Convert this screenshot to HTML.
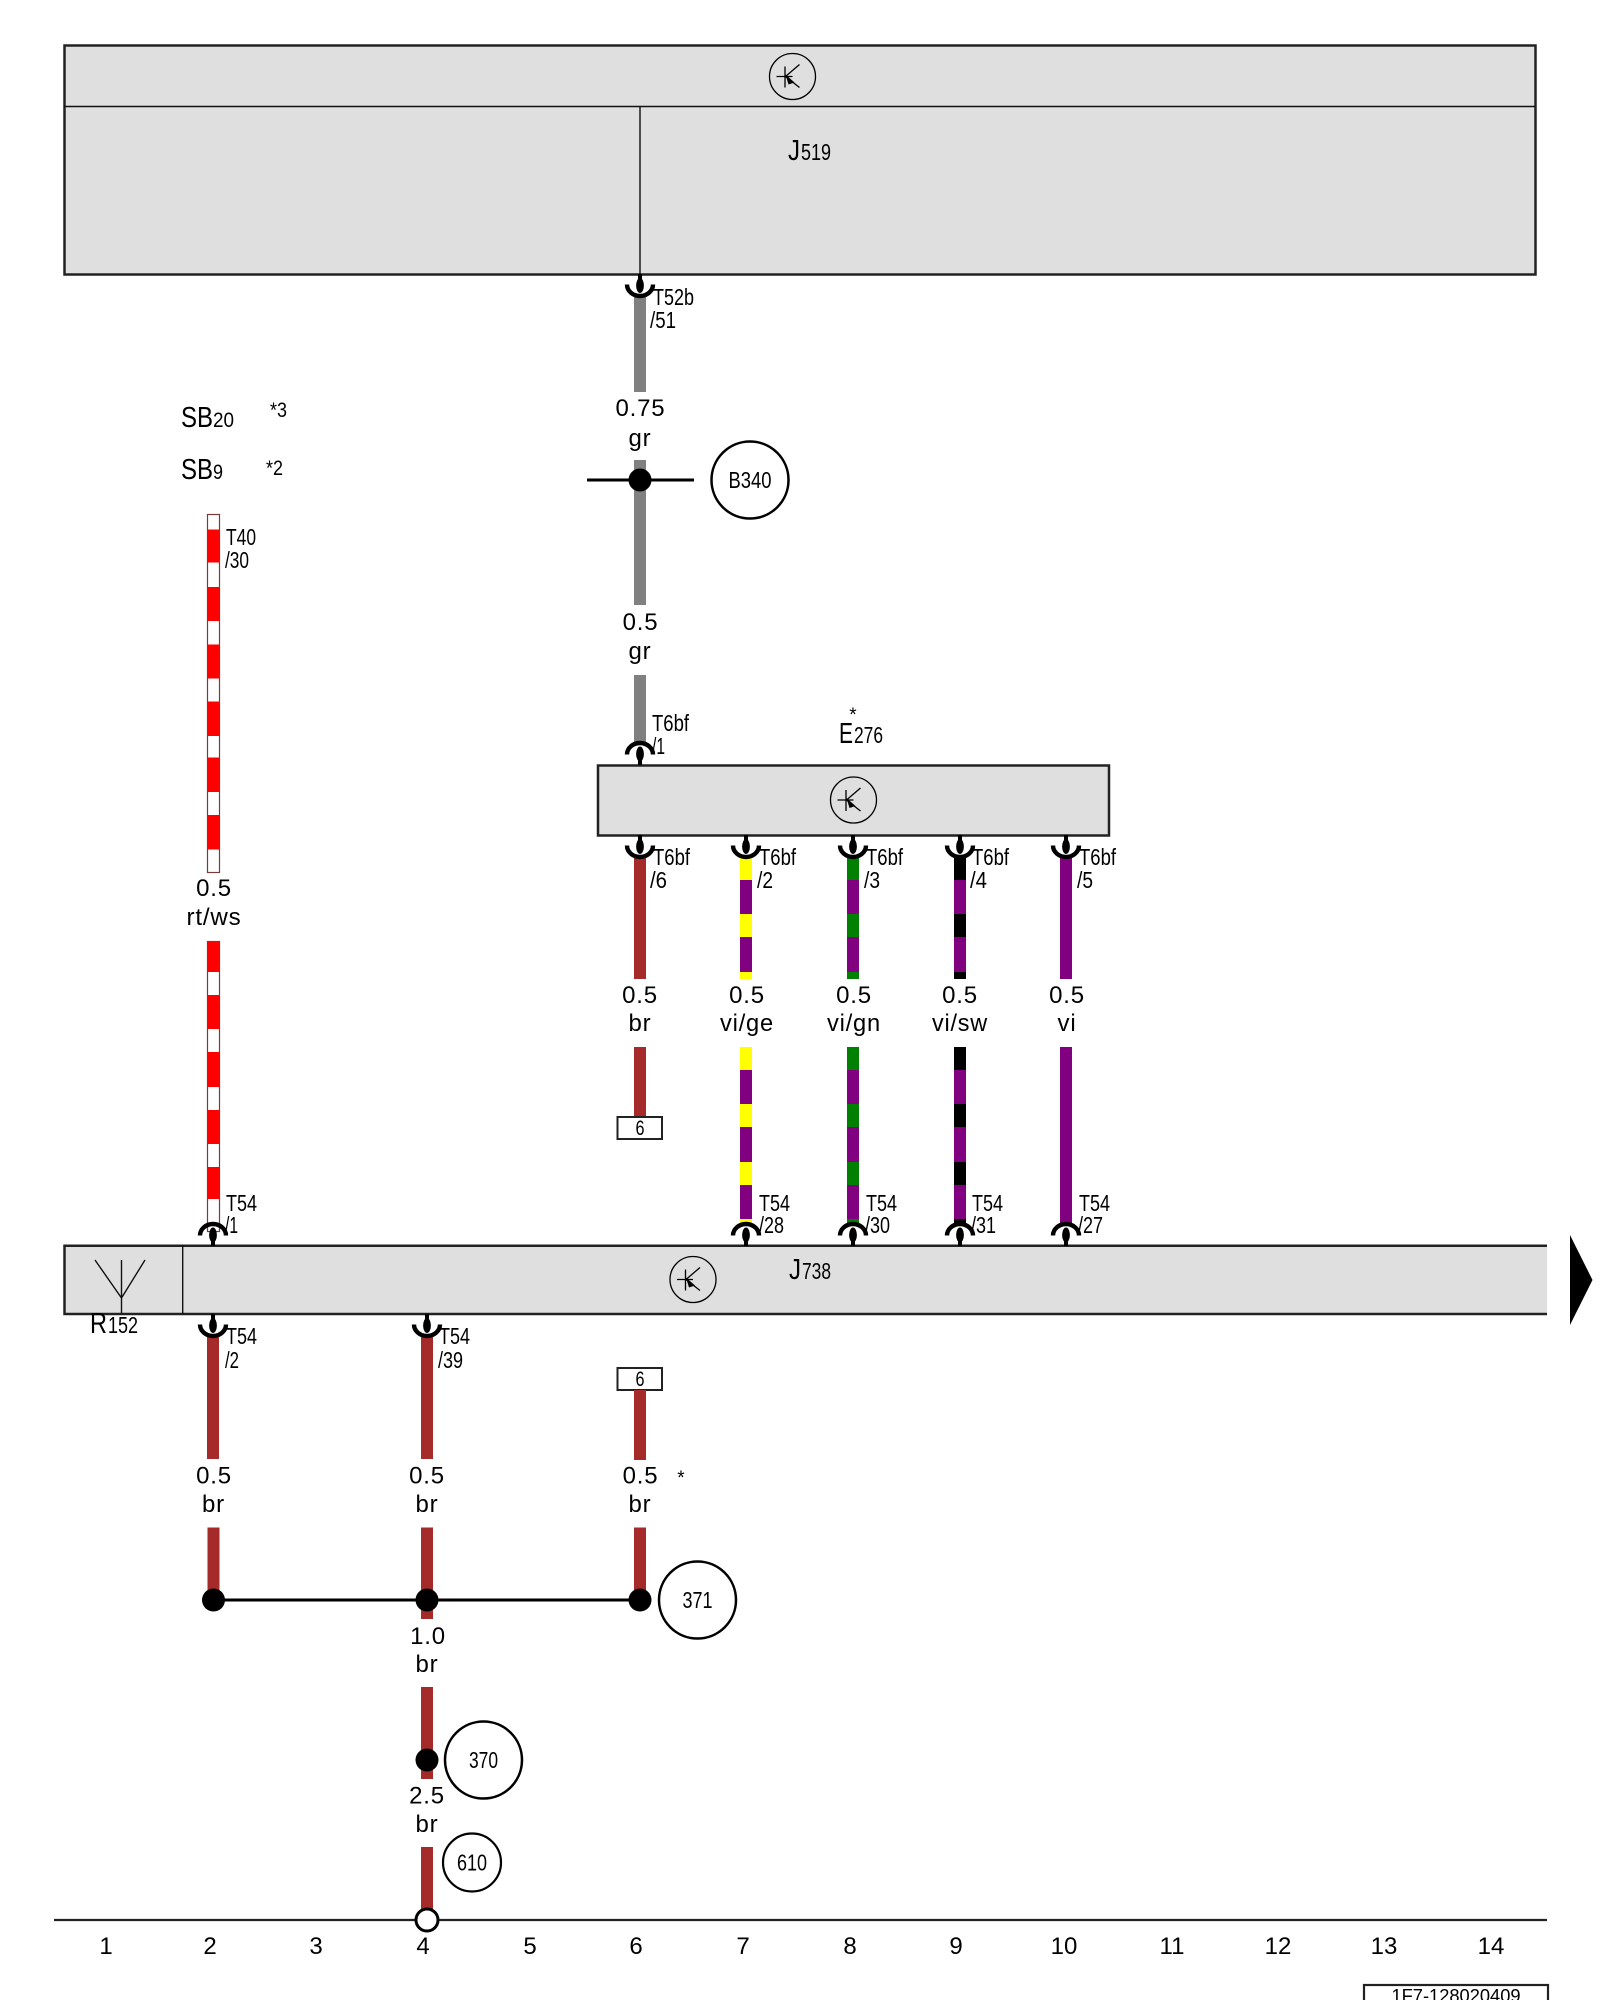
<!DOCTYPE html>
<html><head><meta charset="utf-8"><style>
html,body{margin:0;padding:0;background:#fff}
svg{display:block}
text{font-family:"Liberation Sans",Arial,sans-serif;fill:#000}
.a{font-size:24px;text-anchor:middle;letter-spacing:.8px}
.t{font-size:23px}
.b{font-size:29px}
</style></head><body>
<svg width="1600" height="2000" viewBox="0 0 1600 2000" xmlns="http://www.w3.org/2000/svg">
<defs>
<g id="up"><rect x="-2" y="-8" width="4" height="8" fill="#000"/><ellipse cx="0" cy="-11" rx="3.9" ry="7.5" fill="#000"/><path d="M-13,-10.5 A13,11.5 0 0 1 13,-10.5" fill="none" stroke="#000" stroke-width="4.4"/></g>
<g id="dn"><rect x="-2" y="0" width="4" height="8" fill="#000"/><ellipse cx="0" cy="11.5" rx="3.9" ry="7.5" fill="#000"/><path d="M-13,10.5 A13,11.5 0 0 0 13,10.5" fill="none" stroke="#000" stroke-width="4.4"/></g>
<g id="tr" fill="none" stroke="#000" stroke-width="1.3"><circle cx="0" cy="0" r="23"/><path d="M-16,0H0M-7.5,-10V11M-7,0L7,-12M-7,0L7,11"/><path d="M-7,-2L2,6L-4,8Z" fill="#000" stroke="none"/></g>
</defs>

<!-- J519 -->
<rect x="64.5" y="45.5" width="1471" height="229" fill="#dfdfdf" stroke="#222" stroke-width="2.5"/>
<line x1="64" y1="106.5" x2="1535" y2="106.5" stroke="#111" stroke-width="1.6"/>
<line x1="640" y1="106" x2="640" y2="274" stroke="#111" stroke-width="1.4"/>
<use href="#tr" x="792.5" y="76.5"/>
<text class="b" x="788" y="160" textLength="12" lengthAdjust="spacingAndGlyphs">J</text>
<text class="t" x="801" y="160" textLength="30" lengthAdjust="spacingAndGlyphs">519</text>

<!-- gray wires -->
<rect x="634" y="296" width="12" height="96" fill="#808080"/>
<use href="#dn" x="640" y="274"/>
<text class="t" x="653" y="305" textLength="41" lengthAdjust="spacingAndGlyphs">T52b</text>
<text class="t" x="650" y="328" textLength="26" lengthAdjust="spacingAndGlyphs">/51</text>
<text class="a" x="640.5" y="416">0.75</text>
<text class="a" x="640" y="446">gr</text>
<rect x="634" y="460" width="12" height="145" fill="#808080"/>
<line x1="587" y1="480" x2="694" y2="480" stroke="#000" stroke-width="3"/>
<circle cx="640" cy="480" r="11.5" fill="#000"/>
<circle cx="750" cy="480" r="38.5" fill="#fff" stroke="#000" stroke-width="2.5"/>
<text class="t" x="728.5" y="488" textLength="43" lengthAdjust="spacingAndGlyphs">B340</text>
<text class="a" x="640.5" y="630">0.5</text>
<text class="a" x="640" y="659">gr</text>
<rect x="634" y="675" width="12" height="70" fill="#808080"/>

<!-- SB labels -->
<text x="181" y="427" font-size="29" textLength="32" lengthAdjust="spacingAndGlyphs">SB</text>
<text x="213" y="427" font-size="21" textLength="21" lengthAdjust="spacingAndGlyphs">20</text>
<text x="270" y="417" font-size="21" textLength="17" lengthAdjust="spacingAndGlyphs">*3</text>
<text x="181" y="479" font-size="29" textLength="32" lengthAdjust="spacingAndGlyphs">SB</text>
<text x="213" y="479" font-size="21" textLength="10" lengthAdjust="spacingAndGlyphs">9</text>
<text x="266" y="475" font-size="21" textLength="17" lengthAdjust="spacingAndGlyphs">*2</text>

<!-- red/white wire -->
<rect x="207.5" y="514.5" width="12" height="358" fill="#fff" stroke="#7a3a3a" stroke-width="1.2"/>
<g fill="#f00">
<rect x="207" y="529.5" width="13" height="33"/><rect x="207" y="587" width="13" height="34"/><rect x="207" y="644.5" width="13" height="34"/><rect x="207" y="701.5" width="13" height="34.5"/><rect x="207" y="757.5" width="13" height="34.5"/><rect x="207" y="815" width="13" height="34.5"/>
</g>
<text class="t" x="226" y="545" textLength="30" lengthAdjust="spacingAndGlyphs">T40</text>
<text class="t" x="225" y="568" textLength="24" lengthAdjust="spacingAndGlyphs">/30</text>
<text class="a" x="214" y="896">0.5</text>
<text class="a" x="214" y="925" textLength="55" lengthAdjust="spacingAndGlyphs">rt/ws</text>
<rect x="207.5" y="941.5" width="12" height="290" fill="#fff" stroke="#7a3a3a" stroke-width="1.2"/>
<g fill="#f00">
<rect x="207" y="941" width="13" height="31"/><rect x="207" y="995" width="13" height="34"/><rect x="207" y="1052" width="13" height="35"/><rect x="207" y="1110" width="13" height="34"/><rect x="207" y="1167" width="13" height="32"/>
</g>

<!-- E276 -->
<text x="853" y="721" font-size="19" text-anchor="middle">*</text>
<text class="b" x="839" y="743" textLength="14" lengthAdjust="spacingAndGlyphs">E</text>
<text class="t" x="854" y="743" textLength="29" lengthAdjust="spacingAndGlyphs">276</text>
<rect x="598" y="765.5" width="511" height="70" fill="#dfdfdf" stroke="#222" stroke-width="2.5"/>
<use href="#tr" x="853.5" y="800"/>
<use href="#up" x="640" y="765"/>
<text class="t" x="652" y="731" textLength="37" lengthAdjust="spacingAndGlyphs">T6bf</text>
<text class="t" x="652" y="754" textLength="13" lengthAdjust="spacingAndGlyphs">/1</text>

<!-- upper wires col 6-10 -->
<rect x="634" y="856" width="12" height="123" fill="#a52a2a"/>
<rect x="740" y="856" width="12" height="123" fill="#800080"/>
<g fill="#ff0"><rect x="740" y="856" width="12" height="24"/><rect x="740" y="914" width="12" height="23"/><rect x="740" y="972" width="12" height="7"/></g>
<rect x="847" y="856" width="12" height="123" fill="#800080"/>
<g fill="#008000"><rect x="847" y="856" width="12" height="24"/><rect x="847" y="914" width="12" height="23"/><rect x="847" y="972" width="12" height="7"/></g>
<rect x="954" y="856" width="12" height="123" fill="#800080"/>
<g fill="#000"><rect x="954" y="856" width="12" height="24"/><rect x="954" y="914" width="12" height="23"/><rect x="954" y="972" width="12" height="7"/></g>
<rect x="1060" y="856" width="12" height="123" fill="#800080"/>
<use href="#dn" x="640" y="835"/><use href="#dn" x="746" y="835"/><use href="#dn" x="853" y="835"/><use href="#dn" x="960" y="835"/><use href="#dn" x="1066" y="835"/>
<text class="t" x="653" y="865" textLength="37" lengthAdjust="spacingAndGlyphs">T6bf</text><text class="t" x="650" y="888" textLength="17" lengthAdjust="spacingAndGlyphs">/6</text>
<text class="t" x="759" y="865" textLength="37" lengthAdjust="spacingAndGlyphs">T6bf</text><text class="t" x="757" y="888" textLength="16" lengthAdjust="spacingAndGlyphs">/2</text>
<text class="t" x="866" y="865" textLength="37" lengthAdjust="spacingAndGlyphs">T6bf</text><text class="t" x="864" y="888" textLength="16" lengthAdjust="spacingAndGlyphs">/3</text>
<text class="t" x="972" y="865" textLength="37" lengthAdjust="spacingAndGlyphs">T6bf</text><text class="t" x="970" y="888" textLength="17" lengthAdjust="spacingAndGlyphs">/4</text>
<text class="t" x="1079" y="865" textLength="37" lengthAdjust="spacingAndGlyphs">T6bf</text><text class="t" x="1077" y="888" textLength="16" lengthAdjust="spacingAndGlyphs">/5</text>
<text class="a" x="640" y="1003">0.5</text><text class="a" x="640" y="1031">br</text>
<text class="a" x="747" y="1003">0.5</text><text class="a" x="747" y="1031" textLength="54" lengthAdjust="spacingAndGlyphs">vi/ge</text>
<text class="a" x="854" y="1003">0.5</text><text class="a" x="854" y="1031" textLength="54" lengthAdjust="spacingAndGlyphs">vi/gn</text>
<text class="a" x="960" y="1003">0.5</text><text class="a" x="960" y="1031" textLength="56" lengthAdjust="spacingAndGlyphs">vi/sw</text>
<text class="a" x="1067" y="1003">0.5</text><text class="a" x="1067" y="1031">vi</text>

<!-- lower wires col 6-10 -->
<rect x="634" y="1047" width="12" height="70" fill="#a52a2a"/>
<rect x="617.5" y="1117" width="44.5" height="22" fill="#fff" stroke="#222" stroke-width="2"/>
<text x="640" y="1135" font-size="21" text-anchor="middle" textLength="9" lengthAdjust="spacingAndGlyphs">6</text>
<rect x="740" y="1047" width="12" height="178" fill="#800080"/>
<g fill="#ff0"><rect x="740" y="1047" width="12" height="23"/><rect x="740" y="1104" width="12" height="23"/><rect x="740" y="1162" width="12" height="23"/><rect x="740" y="1219" width="12" height="5"/></g>
<rect x="847" y="1047" width="12" height="178" fill="#800080"/>
<g fill="#008000"><rect x="847" y="1047" width="12" height="23"/><rect x="847" y="1104" width="12" height="23"/><rect x="847" y="1162" width="12" height="23"/><rect x="847" y="1219" width="12" height="5"/></g>
<rect x="954" y="1047" width="12" height="178" fill="#800080"/>
<g fill="#000"><rect x="954" y="1047" width="12" height="23"/><rect x="954" y="1104" width="12" height="23"/><rect x="954" y="1162" width="12" height="23"/><rect x="954" y="1219" width="12" height="5"/></g>
<rect x="1060" y="1047" width="12" height="178" fill="#800080"/>

<!-- J738 -->
<rect x="64" y="1245.5" width="1483" height="69" fill="#dfdfdf"/>
<path d="M1547,1245.7H64.5V1314H1547" fill="none" stroke="#222" stroke-width="2.5"/>
<line x1="182.7" y1="1245" x2="182.7" y2="1314" stroke="#111" stroke-width="1.4"/>
<path d="M95,1260L121.5,1298L145,1260M121.5,1260V1313" fill="none" stroke="#111" stroke-width="1.4"/>
<use href="#tr" x="693" y="1279.5"/>
<text class="b" x="789" y="1279" textLength="12" lengthAdjust="spacingAndGlyphs">J</text>
<text class="t" x="802" y="1279" textLength="29" lengthAdjust="spacingAndGlyphs">738</text>
<text class="b" x="90" y="1333" textLength="17" lengthAdjust="spacingAndGlyphs">R</text>
<text class="t" x="108" y="1333" textLength="30" lengthAdjust="spacingAndGlyphs">152</text>
<use href="#up" x="213" y="1246"/><use href="#up" x="746" y="1246"/><use href="#up" x="853" y="1246"/><use href="#up" x="960" y="1246"/><use href="#up" x="1066" y="1246"/>
<text class="t" x="226" y="1211" textLength="31" lengthAdjust="spacingAndGlyphs">T54</text><text class="t" x="225" y="1233" textLength="13" lengthAdjust="spacingAndGlyphs">/1</text>
<text class="t" x="759" y="1211" textLength="31" lengthAdjust="spacingAndGlyphs">T54</text><text class="t" x="759" y="1233" textLength="25" lengthAdjust="spacingAndGlyphs">/28</text>
<text class="t" x="866" y="1211" textLength="31" lengthAdjust="spacingAndGlyphs">T54</text><text class="t" x="865" y="1233" textLength="25" lengthAdjust="spacingAndGlyphs">/30</text>
<text class="t" x="972" y="1211" textLength="31" lengthAdjust="spacingAndGlyphs">T54</text><text class="t" x="971" y="1233" textLength="25" lengthAdjust="spacingAndGlyphs">/31</text>
<text class="t" x="1079" y="1211" textLength="31" lengthAdjust="spacingAndGlyphs">T54</text><text class="t" x="1078" y="1233" textLength="25" lengthAdjust="spacingAndGlyphs">/27</text>
<path d="M1570,1235L1592.5,1280L1570,1325Z" fill="#000"/>

<!-- below J738 -->
<rect x="207" y="1336" width="12" height="123" fill="#a52a2a"/>
<rect x="421" y="1336" width="12" height="123" fill="#a52a2a"/>
<use href="#dn" x="213" y="1314"/><use href="#dn" x="427" y="1314"/>
<text class="t" x="226" y="1344" textLength="31" lengthAdjust="spacingAndGlyphs">T54</text><text class="t" x="225" y="1368" textLength="14" lengthAdjust="spacingAndGlyphs">/2</text>
<text class="t" x="439" y="1344" textLength="31" lengthAdjust="spacingAndGlyphs">T54</text><text class="t" x="438" y="1368" textLength="25" lengthAdjust="spacingAndGlyphs">/39</text>
<rect x="617.5" y="1368" width="44.5" height="22" fill="#fff" stroke="#222" stroke-width="2"/>
<text x="640" y="1386" font-size="21" text-anchor="middle" textLength="9" lengthAdjust="spacingAndGlyphs">6</text>
<rect x="634" y="1390" width="12" height="70" fill="#a52a2a"/>

<text class="a" x="214" y="1483.5">0.5</text><text class="a" x="213.5" y="1512">br</text>
<text class="a" x="427" y="1483.5">0.5</text><text class="a" x="427" y="1512">br</text>
<text class="a" x="640.5" y="1483.5">0.5</text><text class="a" x="640" y="1512">br</text>
<text x="681" y="1484" font-size="19" text-anchor="middle">*</text>

<rect x="207.5" y="1527.5" width="12" height="72" fill="#a52a2a"/>
<rect x="421" y="1527.5" width="12" height="91.5" fill="#a52a2a"/>
<rect x="634" y="1527.5" width="12" height="72" fill="#a52a2a"/>
<line x1="213.5" y1="1600" x2="640" y2="1600" stroke="#000" stroke-width="3"/>
<circle cx="213.5" cy="1600" r="11.5" fill="#000"/><circle cx="427" cy="1600" r="11.5" fill="#000"/><circle cx="640" cy="1600" r="11.5" fill="#000"/>
<circle cx="697.5" cy="1600" r="38.5" fill="#fff" stroke="#000" stroke-width="2.5"/>
<text class="t" x="682.5" y="1608" textLength="30" lengthAdjust="spacingAndGlyphs">371</text>

<text class="a" x="428" y="1644">1.0</text><text class="a" x="427" y="1672">br</text>
<rect x="421" y="1687" width="12" height="92" fill="#a52a2a"/>
<circle cx="427" cy="1760" r="11.5" fill="#000"/>
<circle cx="483.5" cy="1760" r="38.5" fill="#fff" stroke="#000" stroke-width="2.5"/>
<text class="t" x="469" y="1768" textLength="29" lengthAdjust="spacingAndGlyphs">370</text>
<text class="a" x="427" y="1803.5">2.5</text><text class="a" x="427" y="1832">br</text>
<circle cx="472" cy="1862.5" r="29" fill="#fff" stroke="#000" stroke-width="2.2"/>
<text class="t" x="457" y="1870.5" textLength="30" lengthAdjust="spacingAndGlyphs">610</text>
<rect x="421" y="1847" width="12" height="70" fill="#a52a2a"/>

<!-- baseline -->
<line x1="54" y1="1920" x2="1547" y2="1920" stroke="#222" stroke-width="2.2"/>
<circle cx="427" cy="1920" r="11" fill="#fff" stroke="#000" stroke-width="3"/>
<g font-size="24" text-anchor="middle">
<text x="106" y="1954">1</text><text x="210" y="1954">2</text><text x="316" y="1954">3</text><text x="423" y="1954">4</text><text x="530" y="1954">5</text><text x="636" y="1954">6</text><text x="743" y="1954">7</text><text x="850" y="1954">8</text><text x="956" y="1954">9</text><text x="1064" y="1954">10</text><text x="1172" y="1954">11</text><text x="1278" y="1954">12</text><text x="1384" y="1954">13</text><text x="1491" y="1954">14</text>
</g>

<rect x="1364" y="1985" width="184" height="30" fill="#fff" stroke="#222" stroke-width="2.2"/>
<text x="1456" y="2002" font-size="18.3" text-anchor="middle">1F7-128020409</text>
</svg>
</body></html>
